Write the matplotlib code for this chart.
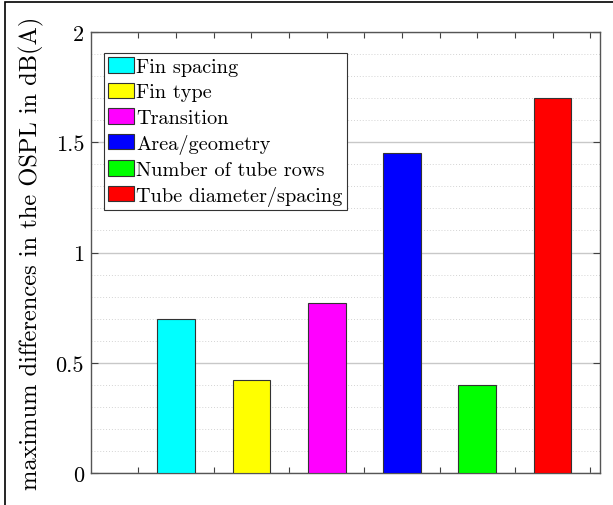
import matplotlib
matplotlib.use("Agg")
import matplotlib.pyplot as plt
from matplotlib.patches import Rectangle
import numpy as np

categories = ["Fin spacing", "Fin type", "Transition", "Area/geometry",
              "Number of tube rows", "Tube diameter/spacing"]
values = [0.70, 0.42, 0.77, 1.45, 0.40, 1.70]
colors = ["#00ffff", "#ffff00", "#ff00ff", "#0000ff", "#00ff00", "#ff0000"]
ytick_labels = ["0", "0.5", "1", "1.5", "2"]
ylabel = "maximum differences in the OSPL in dB(A)"

plt.rcParams['font.family'] = ['cmr10', 'DejaVu Serif']
plt.rcParams['axes.formatter.use_mathtext'] = True

W, H = 613, 506
fig = plt.figure(figsize=(W / 100, H / 100), dpi=100)
ax = fig.add_axes([91 / W, 1 - 474 / H, (600 - 91) / W, (474 - 33) / H])

x = np.arange(1, len(values) + 1)
for xi, v, c, lab in zip(x, values, colors, categories):
    ax.bar(xi, v, width=0.5, color=c, edgecolor="#333333", linewidth=0.8,
           label=lab, zorder=3)

ax.set_xlim(-0.13, 6.63)
ax.set_ylim(0, 2)
yt = [0, 0.5, 1, 1.5, 2]
ax.set_yticks(yt)
ax.set_yticklabels(ytick_labels, fontsize=16)
ax.set_yticks(np.arange(0, 2.01, 0.1), minor=True)
ax.yaxis.grid(True, which="major", color="#c8c8c8", linewidth=1.0, zorder=0)
ax.yaxis.grid(True, which="minor", color="#d4d4d4", linestyle=(0, (1, 2)),
              linewidth=0.7, zorder=0)
ax.set_xticks(np.arange(0.5, 6.6, 1.0))
ax.set_xticklabels([])
ax.tick_params(axis="x", which="major", direction="in", length=4,
               top=False, bottom=True, color="#404040")
ax.tick_params(axis="y", which="major", direction="in", length=5,
               left=True, right=True, color="#404040", labelcolor="black",
               pad=5)
ax.tick_params(axis="y", which="minor", left=False, right=False)

# top ticks every 0.5
sec = ax.secondary_xaxis("top")
sec.set_xticks(np.arange(0.5, 6.6, 0.5))
sec.set_xticklabels([])
sec.tick_params(direction="in", length=4, color="#404040")
sec.spines["top"].set_visible(False)

for s in ax.spines.values():
    s.set_color("#555555")
    s.set_linewidth(1.0)

ax.set_ylabel(ylabel, fontsize=17.6, labelpad=8)

leg = ax.legend(loc="upper left", bbox_to_anchor=(13 / 509, 1 - 21 / 441),
                fontsize=14.6, frameon=True, fancybox=False, framealpha=1,
                edgecolor="#333333", borderpad=0.2, labelspacing=0.33,
                handlelength=1.3, handleheight=0.8, handletextpad=0.1,
                borderaxespad=0)
leg.get_frame().set_linewidth(0.8)
leg.set_zorder(5)

# figure border (top and left visible)
fig.add_artist(Rectangle((4.5 / W, -0.05), 1.1, 1 - 3 / H + 0.05,
                         transform=fig.transFigure, fill=False,
                         edgecolor="black", linewidth=1.2))

fig.savefig("out.png", dpi=100)
